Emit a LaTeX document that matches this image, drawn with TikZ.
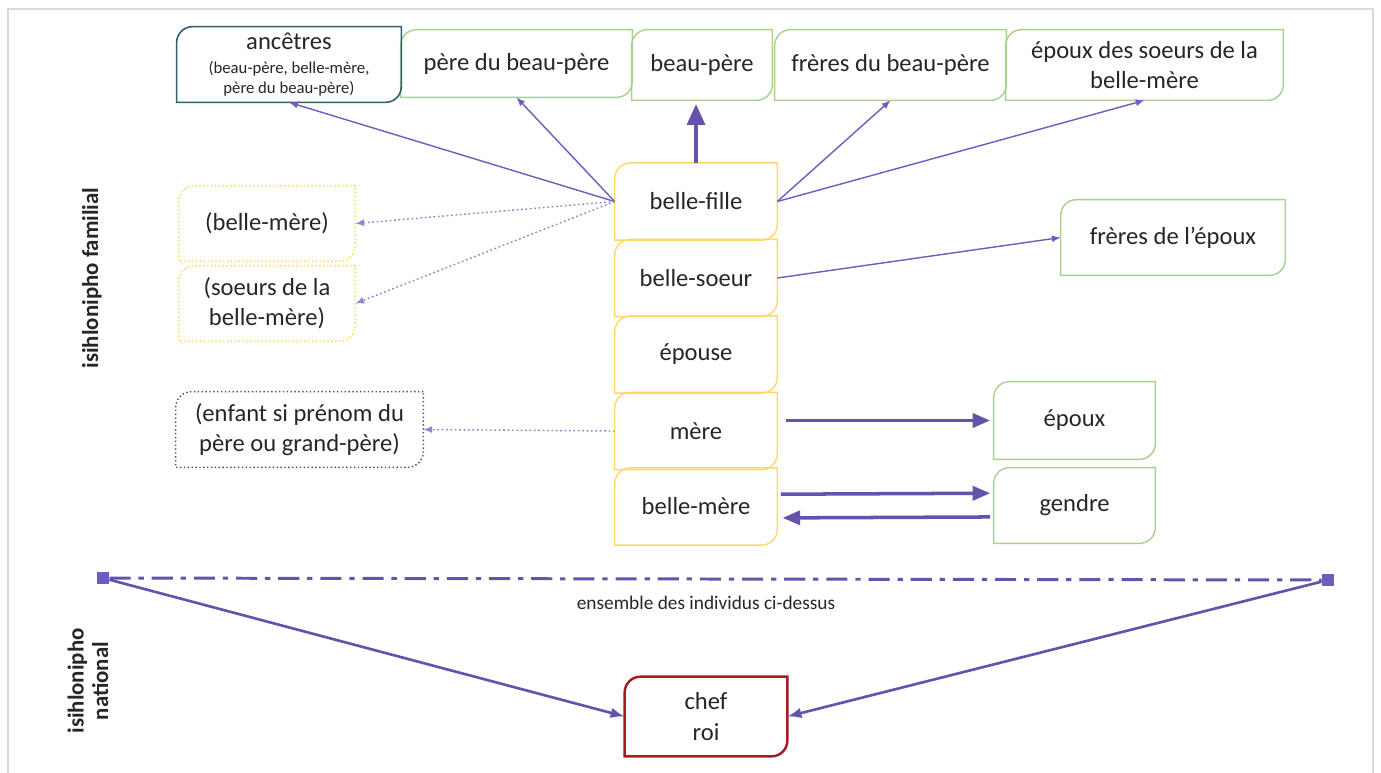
\documentclass[tikz,border=0pt]{standalone}
\usepackage{fontspec}
\setmainfont{Carlito}
\usetikzlibrary{arrows.meta}

\definecolor{jaune}{RGB}{255,217,102}
\definecolor{vert}{RGB}{169,209,142}
\definecolor{sarcelle}{RGB}{47,94,108}
\definecolor{bordeaux}{RGB}{165,28,34}
\definecolor{violet}{RGB}{112,92,190}
\definecolor{cadregris}{RGB}{218,218,218}
\definecolor{encre}{RGB}{38,38,38}

\tikzset{
  boite/.style={align=center, inner sep=2pt, text=encre,
    font=\fontsize{14}{17}\selectfont},
  haut/.style={boite, minimum height=1.4cm},
  colonne/.style={boite, minimum width=3.24cm, minimum height=1.53cm},
  titre/.style={text=encre, font=\fontsize{13}{14}\selectfont\bfseries},
  marque/.style={fill=violet, minimum size=7pt, inner sep=0pt},
  fleche/.style={violet, line width=0.8pt, -{Latex[length=5pt,width=4pt]}},
  pointille/.style={fleche, violet!75, dash pattern=on 1pt off 1.5pt},
  grosse/.style={violet!90!black, line width=2pt, -{Triangle[length=10pt,width=8pt]}},
  versroi/.style={violet!90!black, line width=1.5pt, -{Latex[length=8pt,width=6pt]}},
  tiret/.style={violet!90!black, line width=1.7pt,
    dash pattern=on 12pt off 4.5pt on 3pt off 4.5pt}
}

% contour avec deux coins arrondis (haut gauche, bas droite)
\newcommand{\coin}[2]{%
  \draw[#2] (#1.north east) -- ([xshift=9pt]#1.north west)
    .. controls ([xshift=4pt]#1.north west) and ([yshift=-4pt]#1.north west)
    .. ([yshift=-9pt]#1.north west)
    -- (#1.south west) -- ([xshift=-9pt]#1.south east)
    .. controls ([xshift=-4pt]#1.south east) and ([yshift=4pt]#1.south east)
    .. ([yshift=9pt]#1.south east) -- cycle;}

\begin{document}
\begin{tikzpicture}[x=0.02cm, y=-0.02cm]
\useasboundingbox (0,0) rectangle (1381,772);
\draw[cadregris, line width=1.6pt] (8,800) -- (8,9) -- (1373,9) -- (1373,800);

% rangee du haut
\node[boite, minimum width=4.48cm, minimum height=1.5cm,
  font=\fontsize{9.5}{11.5}\selectfont] (ancetres) at (289,64.5)
  {{\fontsize{14}{17}\selectfont ancêtres}\\[2pt](beau-père, belle-mère,\\père du beau-père)};
\node[haut, minimum width=4.62cm, minimum height=1.34cm] (perebp) at (516.5,63.5) {père du beau-père};
\node[haut, minimum width=2.8cm] (beaupere) at (702,65) {beau-père};
\node[haut, minimum width=4.62cm] (freresbp) at (890.5,65) {frères du beau-père};
\node[haut, minimum width=5.54cm] (epouxsoeurs) at (1144.5,65) {époux des soeurs de la\\belle-mère};

% colonne centrale
\node[colonne] (bellefille) at (696,201.5) {belle-fille};
\node[colonne] (bellesoeur) at (696,278) {belle-soeur};
\node[colonne] (epouse) at (696,354.5) {épouse};
\node[colonne] (mere) at (696,431) {mère};
\node[colonne] (bellemere) at (696,506.5) {belle-mère};

% a gauche
\node[boite, minimum width=3.52cm, minimum height=1.5cm] (pbm) at (267,223.5) {(belle-mère)};
\node[boite, minimum width=3.52cm, minimum height=1.5cm] (psoeurs) at (267,303.5) {(soeurs de la\\belle-mère)};
\node[boite, minimum width=4.94cm, minimum height=1.5cm] (penfant) at (299.5,429.5) {(enfant si prénom du\\père ou grand-père)};

% a droite
\node[boite, minimum width=4.48cm, minimum height=1.5cm] (freresepoux) at (1173,237.5) {frères de l’époux};
\node[boite, minimum width=3.22cm, minimum height=1.54cm] (epoux) at (1074.5,420.5) {époux};
\node[boite, minimum width=3.22cm, minimum height=1.5cm] (gendre) at (1074.5,505.5) {gendre};

% en bas
\node[boite, minimum width=3.24cm, minimum height=1.58cm,
  font=\fontsize{14}{18}\selectfont] (chef) at (706,716.5) {chef\\roi};

\foreach \n/\c in {perebp/vert, beaupere/vert, freresbp/vert, epouxsoeurs/vert,
    freresepoux/vert, epoux/vert, gendre/vert,
    bellefille/jaune, bellesoeur/jaune, epouse/jaune, mere/jaune, bellemere/jaune}
  \coin{\n}{draw=\c, line width=0.8pt};
\coin{ancetres}{draw=sarcelle, line width=0.9pt}
\coin{pbm}{draw=jaune, line width=1pt, dash pattern=on 0.8pt off 1.4pt}
\coin{psoeurs}{draw=jaune, line width=1pt, dash pattern=on 0.8pt off 1.4pt}
\coin{penfant}{draw=encre!80, line width=0.8pt, dash pattern=on 0.8pt off 1.4pt}
\coin{chef}{draw=bordeaux, line width=1.4pt}

% titres
\node[titre, rotate=90] (familial) at (92,278) {isihlonipho familial};
\node[titre, rotate=90, align=center] (national) at (88,681) {isihlonipho\\national};
\node[text=encre, font=\fontsize{11}{13}\selectfont] (ensemble) at (706,603) {ensemble des individus ci-dessus};

% liens
\draw[fleche] (bellefille.west) -- (ancetres.south);
\draw[fleche] (bellefille.west) -- (perebp.south);
\draw[fleche] (bellefille.east) -- (freresbp.south);
\draw[fleche] (bellefille.east) -- (epouxsoeurs.south);
\draw[grosse, line width=2.6pt, -{Triangle[length=12pt,width=10pt]}, shorten >=2pt]
  (bellefille.north) -- (bellefille.north |- beaupere.south);
\draw[pointille] (bellefille.west) -- (pbm.east);
\draw[pointille] (bellefille.west) -- (psoeurs.east);
\draw[fleche] (bellesoeur.east) -- (freresepoux.west);
\draw[pointille] (mere.west) -- (penfant.east);
\draw[grosse, shorten <=5pt, shorten >=2pt] (mere.east |- epoux.west) -- (epoux.west);
\draw[grosse, shorten <=2pt, shorten >=2pt] ([yshift=7pt]bellemere.east) -- ([yshift=7pt]gendre.west);
\draw[grosse, shorten <=2pt, shorten >=3pt] ([yshift=-6.5pt]gendre.west) -- ([yshift=-6.5pt]bellemere.east);

% ensemble -> chef
\node[marque] (gauche) at (103,578) {};
\node[marque] (droite) at (1328,580) {};
\draw[tiret] (gauche) -- (droite);
\draw[versroi] (gauche) -- (chef.west);
\draw[versroi] (droite) -- (chef.east);

\end{tikzpicture}
\end{document}
